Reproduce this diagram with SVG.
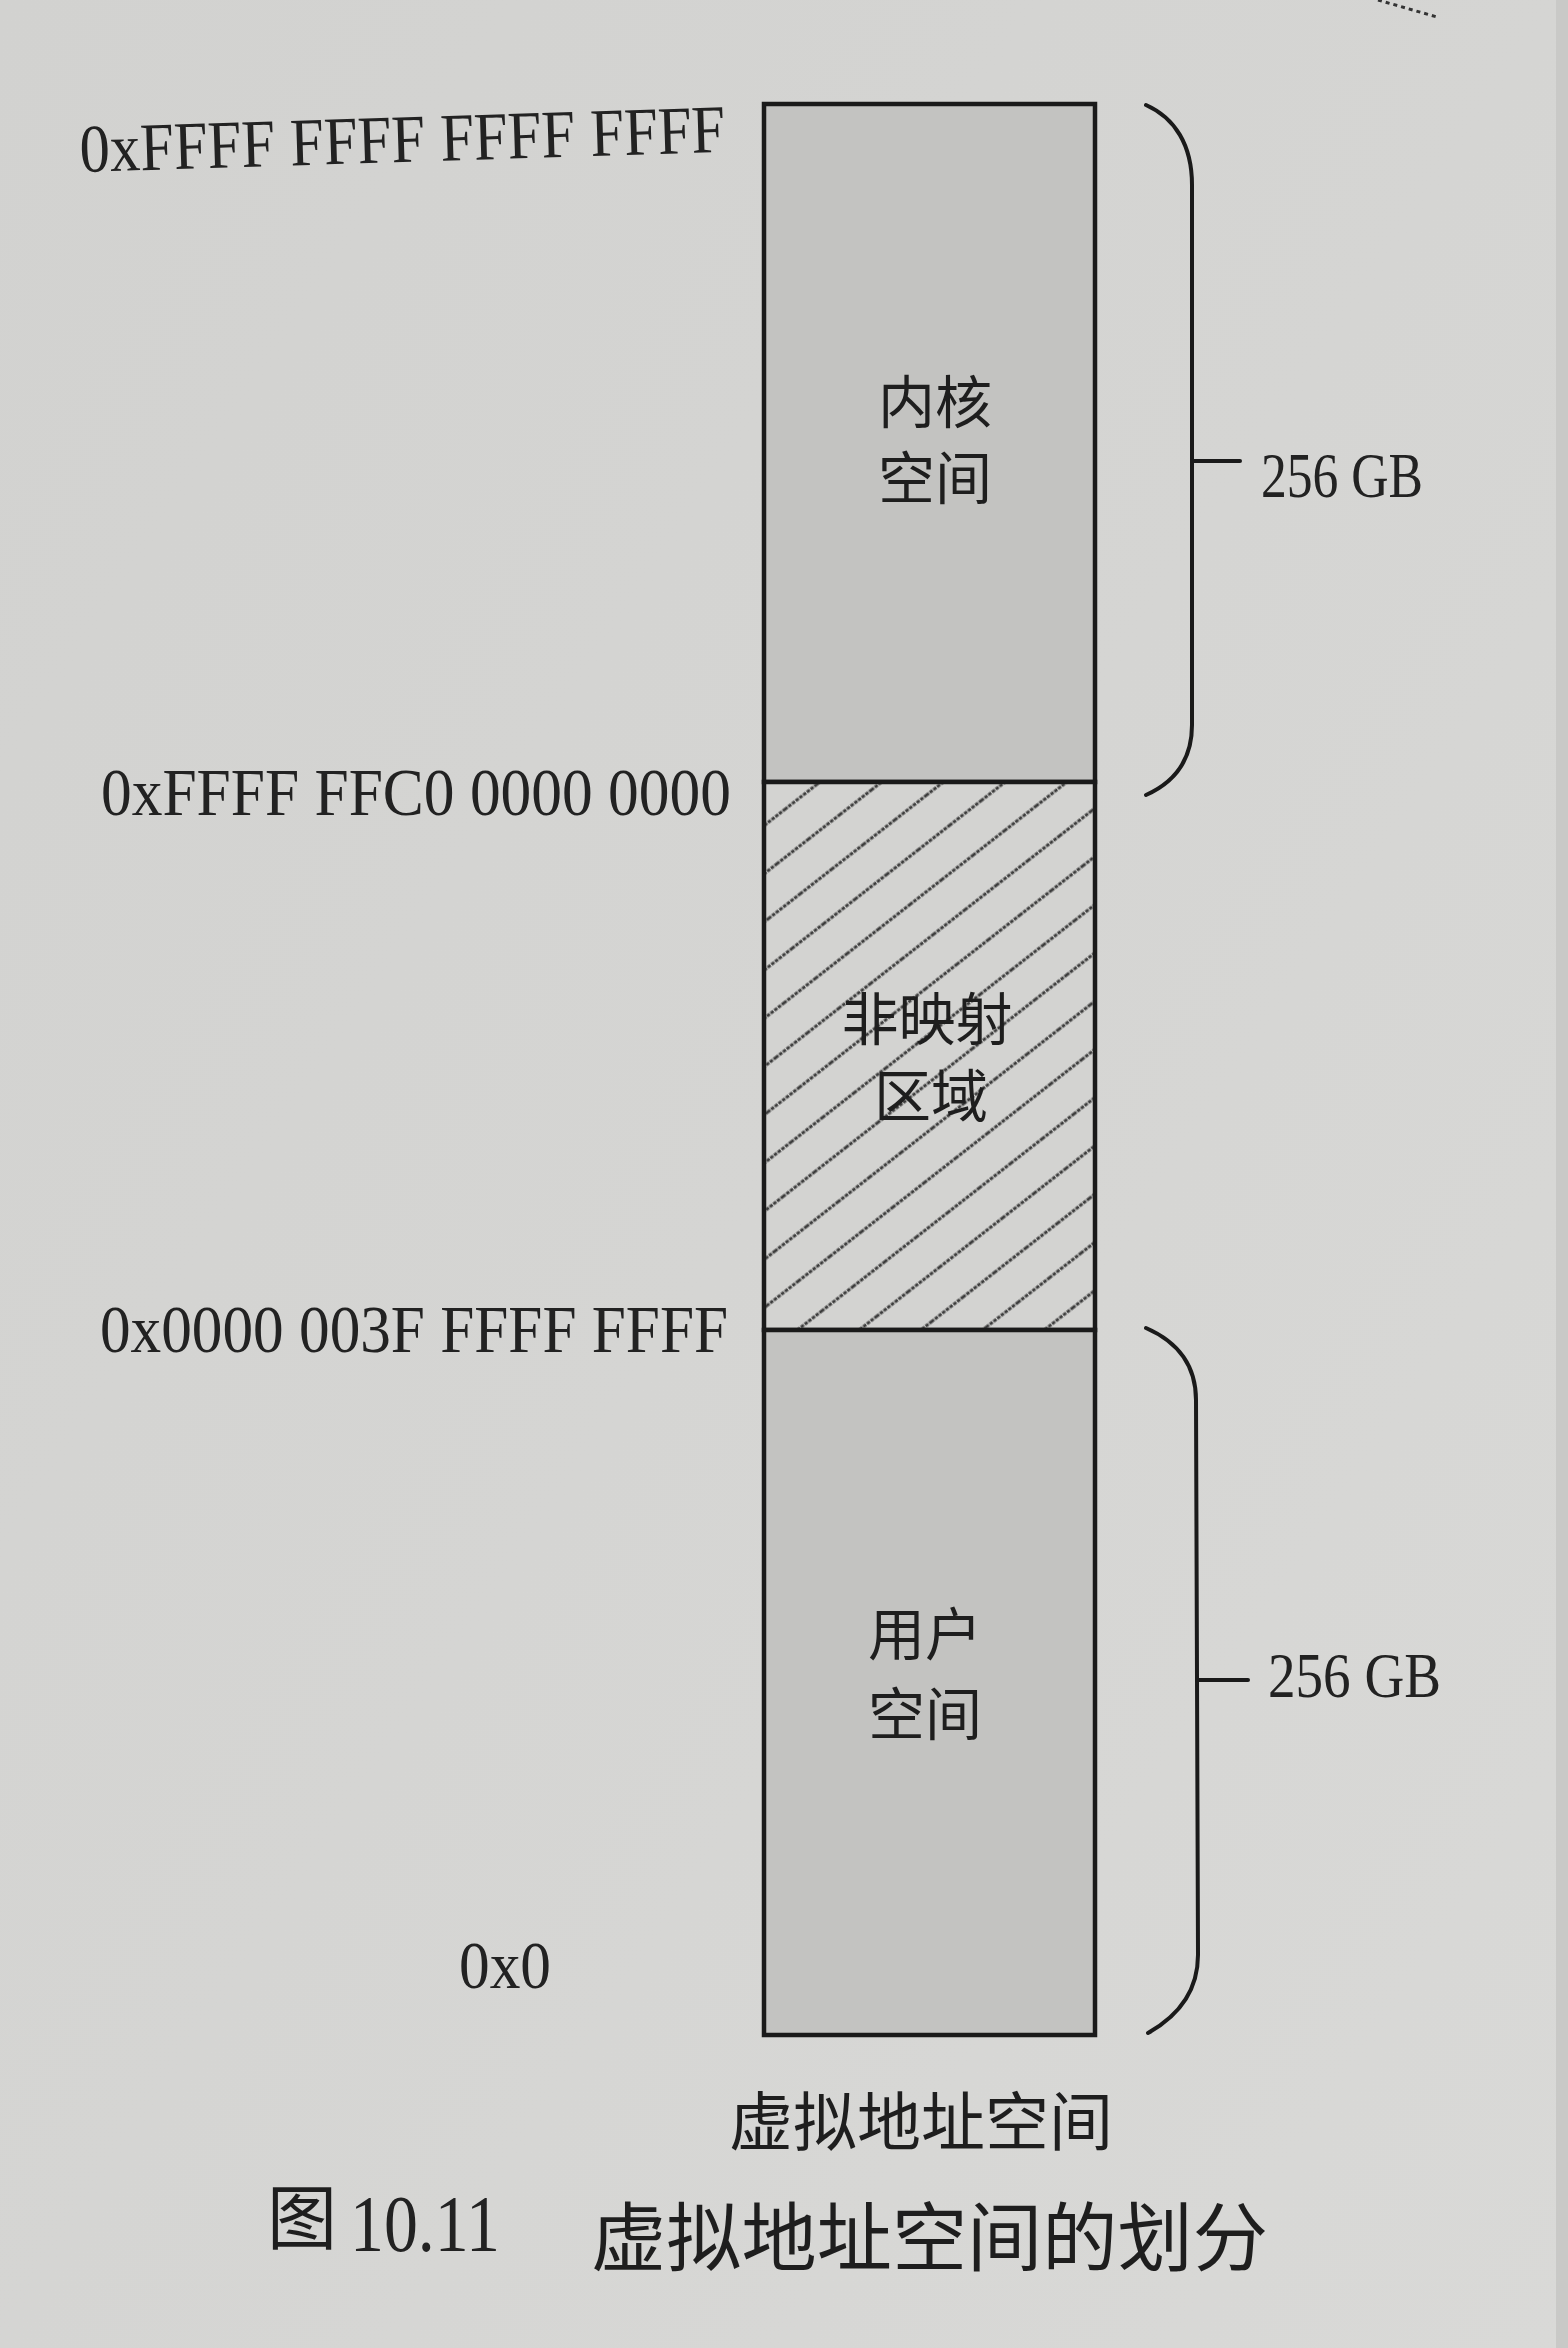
<svg xmlns="http://www.w3.org/2000/svg" width="1568" height="2348" viewBox="0 0 1568 2348">
  <defs>
    <linearGradient id="paper" x1="0" y1="0" x2="1" y2="1">
      <stop offset="0" stop-color="#d2d2d0"/>
      <stop offset="0.5" stop-color="#d5d5d3"/>
      <stop offset="1" stop-color="#d9d9d7"/>
    </linearGradient>
    <pattern id="hatch" patternUnits="userSpaceOnUse" width="40" height="38" patternTransform="rotate(-38)">
      <line x1="0" y1="19" x2="40" y2="19" stroke="#3c3c3c" stroke-width="2.8" stroke-dasharray="3.5 1.2"/>
    </pattern>
    <style>
      .hex { font-family: "Liberation Serif", "Times New Roman", serif; font-size: 68px; fill: #222; }
      .size { font-family: "Liberation Serif", "Times New Roman", serif; font-size: 64px; fill: #222; }
      .cjk { font-family: "Noto Sans CJK SC", "Noto Sans", sans-serif; fill: #1e1e1e; text-anchor: middle; }
      .region { stroke: #1a1a1a; stroke-width: 4.5; }
      .brace { fill: none; stroke: #1a1a1a; stroke-width: 4; stroke-linecap: round; }
    </style>
  </defs>

  <rect x="0" y="0" width="1568" height="2348" fill="url(#paper)"/>
  <rect x="1556" y="0" width="12" height="2348" fill="#c9c9c7"/>
  <line x1="1378" y1="0" x2="1437" y2="17" stroke="#333" stroke-width="3" stroke-dasharray="4 4"/>

  <g id="kernel-space">
    <rect class="region" x="764" y="104" width="331" height="678" fill="#c3c3c1"/>
    <text class="cjk" x="935" y="423" font-size="57">内核</text>
    <text class="cjk" x="935" y="499" font-size="57">空间</text>
  </g>

  <g id="unmapped-region">
    <rect class="region" x="764" y="782" width="331" height="548" fill="#d3d3d1"/>
    <rect x="766" y="784" width="327" height="544" fill="url(#hatch)"/>
    <text class="cjk" x="927" y="1040" font-size="57">非映射</text>
    <text class="cjk" x="931" y="1117" font-size="57">区域</text>
  </g>

  <g id="user-space">
    <rect class="region" x="764" y="1330" width="331" height="705" fill="#c3c3c1"/>
    <text class="cjk" x="925" y="1655" font-size="57">用户</text>
    <text class="cjk" x="925" y="1735" font-size="57">空间</text>
  </g>

  <g id="addresses">
    <text class="hex" x="80" y="162" textLength="646" lengthAdjust="spacingAndGlyphs" transform="rotate(-1.8 400 162)">0xFFFF FFFF FFFF FFFF</text>
    <text class="hex" x="101" y="815" textLength="630" lengthAdjust="spacingAndGlyphs">0xFFFF FFC0 0000 0000</text>
    <text class="hex" x="100" y="1352" textLength="628" lengthAdjust="spacingAndGlyphs">0x0000 003F FFFF FFFF</text>
    <text class="hex" x="459" y="1988" textLength="92" lengthAdjust="spacingAndGlyphs">0x0</text>
  </g>

  <g id="connectors">
    <path class="brace" d="M1146,105 C1175,118 1192,145 1192,185 L1192,725 C1192,760 1175,782 1146,795"/>
    <path class="brace" d="M1192,461 H1240"/>
    <path class="brace" d="M1146,1328 C1178,1342 1196,1365 1196,1400 L1198,1955 C1198,1990 1180,2015 1148,2033"/>
    <path class="brace" d="M1197,1680 H1248"/>
  </g>

  <g id="size-labels">
    <text class="size" x="1261" y="497" textLength="162" lengthAdjust="spacingAndGlyphs">256 GB</text>
    <text class="size" x="1268" y="1697" textLength="173" lengthAdjust="spacingAndGlyphs">256 GB</text>
  </g>

  <g id="captions">
    <text class="cjk" x="921" y="2145" font-size="64">虚拟地址空间</text>
    <text class="cjk" x="267" y="2244" font-size="70" style="text-anchor:start">图</text>
    <text class="hex" x="350" y="2251" textLength="150" lengthAdjust="spacingAndGlyphs" style="font-size:80px">10.11</text>
    <text class="cjk" x="591" y="2265" font-size="75" style="text-anchor:start" textLength="677" lengthAdjust="spacingAndGlyphs">虚拟地址空间的划分</text>
  </g>
</svg>
